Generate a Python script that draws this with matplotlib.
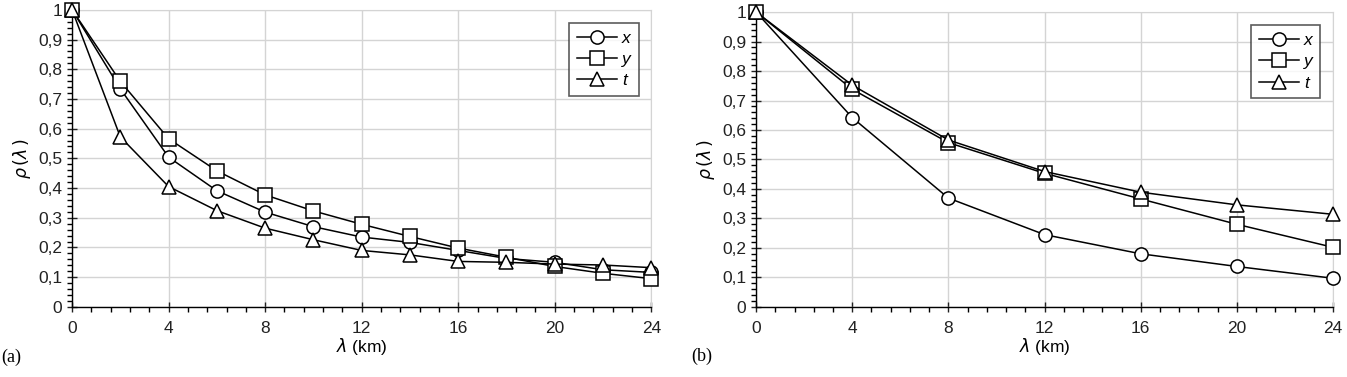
import numpy as np
import matplotlib
matplotlib.use("Agg")
import matplotlib.pyplot as plt
from matplotlib.ticker import MultipleLocator, FuncFormatter

# panel (a): every 2 km
lam_a = [0, 2, 4, 6, 8, 10, 12, 14, 16, 18, 20, 22, 24]
x_a = [1.0, 0.734, 0.504, 0.391, 0.319, 0.270, 0.235, 0.217, 0.190, 0.163, 0.150, 0.125, 0.116]
y_a = [1.0, 0.759, 0.566, 0.458, 0.377, 0.323, 0.278, 0.237, 0.198, 0.167, 0.136, 0.113, 0.095]
t_a = [1.0, 0.572, 0.405, 0.324, 0.265, 0.226, 0.190, 0.175, 0.153, 0.150, 0.144, 0.141, 0.132]

# panel (b): every 4 km
lam_b = [0, 4, 8, 12, 16, 20, 24]
x_b = [1.0, 0.642, 0.369, 0.245, 0.180, 0.137, 0.097]
y_b = [1.0, 0.738, 0.557, 0.453, 0.366, 0.280, 0.202]
t_b = [1.0, 0.752, 0.566, 0.459, 0.389, 0.346, 0.314]

series_names = ["x", "y", "t"]
markers = ["o", "s", "^"]

plt.rcParams["font.family"] = ["Liberation Sans", "DejaVu Sans"]

fig = plt.figure(figsize=(13.47, 3.77), dpi=100)
ax1 = fig.add_axes([0.0535, 0.186, 0.430, 0.788])
ax2 = fig.add_axes([0.5613, 0.186, 0.4284, 0.782])

comma = FuncFormatter(lambda v, p: ("%g" % round(v, 2)).replace(".", ","))


def draw(ax, lam, data, tag):
    for vals, m, name in zip(data, markers, series_names):
        ax.plot(lam, vals, color="black", lw=1.1, marker=m, ms=9.5,
                mfc="white", mec="black", mew=1.1, label=name, zorder=3,
                clip_on=False)
    ax.set_xlim(0, 24)
    ax.set_ylim(0, 1)
    ax.xaxis.set_major_locator(MultipleLocator(4))
    ax.xaxis.set_minor_locator(MultipleLocator(0.8))
    ax.yaxis.set_major_locator(MultipleLocator(0.1))
    ax.yaxis.set_minor_locator(MultipleLocator(0.02))
    ax.yaxis.set_major_formatter(comma)
    ax.grid(True, which="major", color="#d4d4d4", lw=1.0, zorder=0)
    ax.set_axisbelow(True)
    for s in ["top", "right"]:
        ax.spines[s].set_color("#d4d4d4")
    for s in ["left", "bottom"]:
        ax.spines[s].set_color("black")
        ax.spines[s].set_linewidth(1.0)
    ax.tick_params(which="major", direction="inout", length=7, width=1.0,
                   labelsize=12.5, colors="#222222")
    ax.tick_params(which="minor", direction="out", length=3.5, width=1.0)
    ax.tick_params(axis="x", pad=7)
    ax.set_xlabel(r"$\lambda$ (km)", fontsize=12.5, labelpad=0)
    ax.set_ylabel(r"$\rho\,(\lambda\,)$", fontsize=12.5, labelpad=4)
    leg = ax.legend(loc="upper right", bbox_to_anchor=(0.993, 0.985),
                    frameon=True, fancybox=False, handlelength=2.3,
                    handletextpad=0.3, borderpad=0.45, labelspacing=0.35,
                    prop={"style": "italic", "size": 12.5})
    leg.get_frame().set_edgecolor("#333333")
    leg.get_frame().set_linewidth(1.2)
    ax.text(-0.122 if tag == "(a)" else -0.112, -0.14, tag, transform=ax.transAxes,
            fontsize=13, family="Liberation Serif", va="top")


draw(ax1, lam_a, [x_a, y_a, t_a], "(a)")
draw(ax2, lam_b, [x_b, y_b, t_b], "(b)")

fig.savefig("out.png", dpi=100)
